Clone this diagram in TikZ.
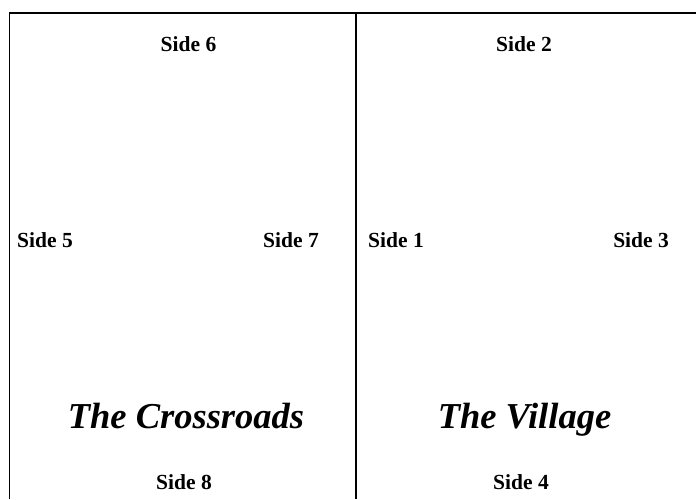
\documentclass[tikz,border=0pt]{standalone}
\usepackage{fontspec}
\setmainfont{Liberation Serif}
\begin{document}
\begin{tikzpicture}[x=1pt,y=-1pt,
  side/.style={font=\fontsize{21.5}{21.5}\selectfont\bfseries, inner sep=0pt},
  title/.style={font=\fontsize{36.5}{36.5}\selectfont\bfseries\itshape, inner sep=0pt, anchor=base},
  frame/.style={line width=1.3pt, black}]
\useasboundingbox (0,0) rectangle (696,499);
\draw[frame] (9.5,499) -- (9.5,13) -- (696,13);
\draw[frame] (356,13) -- (356,499);
\node[side, anchor=base] (s6) at (188.5,51) {Side 6};
\node[side, anchor=base] (s2) at (524,51) {Side 2};
\node[side, anchor=base west] (s5) at (17,247) {Side 5};
\node[side, anchor=base east] (s7) at (319,247) {Side 7};
\node[side, anchor=base west] (s1) at (368,247) {Side 1};
\node[side, anchor=base east] (s3) at (669,247) {Side 3};
\node[side, anchor=base] (s8) at (184,489) {Side 8};
\node[side, anchor=base] (s4) at (521,489) {Side 4};
\node[title] (tc) at (186,428.5) {The Crossroads};
\node[title] (tv) at (524.5,428.5) {The Village};
\end{tikzpicture}
\end{document}
